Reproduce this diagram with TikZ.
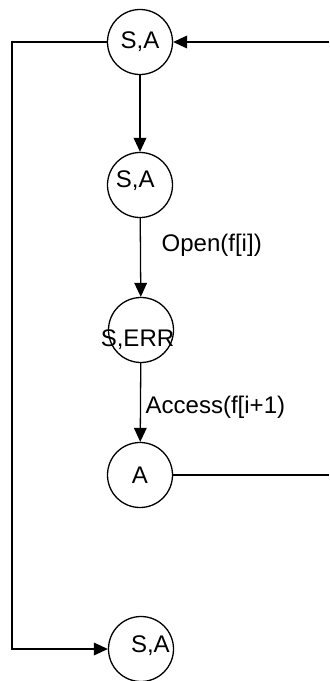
\documentclass[tikz,border=0pt]{standalone}
\usepackage{fontspec}
\setmainfont{Liberation Sans}
\usetikzlibrary{arrows.meta}

\begin{document}
\begin{tikzpicture}[x=0.03cm,y=-0.03cm,line width=1.1pt,
  >={Triangle[length=0.42cm,width=0.38cm]},
  txt/.style={font=\fontsize{20.5}{24}\selectfont,inner sep=0pt},
  state/.style={draw,circle,minimum size=1.95cm,inner sep=0pt}]
\useasboundingbox (0,0) rectangle (329,681);
% states, top to bottom
\node[state,label={[txt]center:S,A}](s1)at(140,42){};
\node[state,label={[txt,xshift=-4pt,yshift=4pt]center:S,A}](s2)at(140,185){};
\node[state,label={[txt,xshift=-3pt,yshift=-8pt]center:S,ERR}](s3)at(141,330){};
\node[state,label={[txt]center:A}](s4)at(140,475){};
\node[state,label={[txt,xshift=8pt,yshift=3pt]center:S,A}](s5)at(141,649){};
\coordinate(l1)at(12,42);\coordinate(r1)at(329,42);\coordinate(r4)at(329,475);
% transitions
\draw[->](s1)--(s2);
\draw[->](s2)--(s3);
\draw[->](s3)--(s4);
\node[txt,anchor=west](open)at(161,245){Open(f[i])};
\node[txt,anchor=west](access)at(145,407){Access(f[i+1)};
\draw[->](r1)--(s1);
\draw(s4)--(r4);
\draw[->](s1)--(l1)|-(s5);
\end{tikzpicture}
\end{document}
